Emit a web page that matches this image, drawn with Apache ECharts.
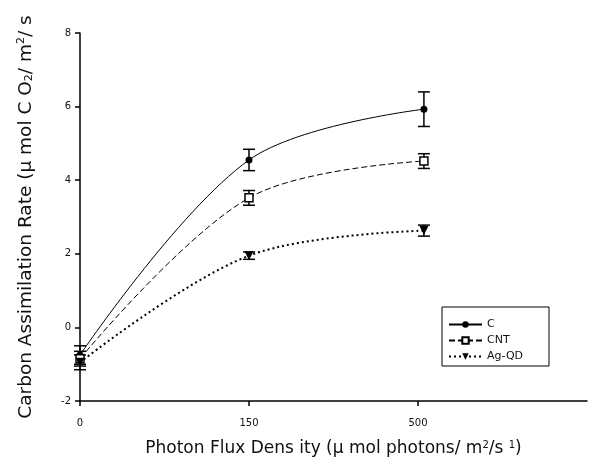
<!DOCTYPE html>
<html>
<head>
<meta charset="utf-8">
<script src="https://cdn.jsdelivr.net/npm/echarts@6/dist/echarts.min.js"></script>
<style>html,body{margin:0;padding:0;background:#fff;}#c{width:593px;height:465px;}</style>
</head>
<body>
<div id="c"></div>
<script>
// Data
const xLabels = ['0', '150', '500'];
const xPos = [0, 1, 2.035];
const cVals = [-0.75, 4.55, 5.93];
const cErr = [0.25, 0.29, 0.47];
const cntVals = [-0.85, 3.52, 4.52];
const cntErr = [0.2, 0.2, 0.2];
const agVals = [-0.95, 1.95, 2.63];
const agErr = [0.2, 0.1, 0.15];
const yTicks = [-2, 0, 2, 4, 6, 8];

const FONT = 'DejaVu Sans';
const chart = echarts.init(document.getElementById('c'));

function pts(vals) { return vals.map((v, i) => [xPos[i], v]); }
function errData(vals, errs) { return vals.map((v, i) => [xPos[i], v - errs[i], v + errs[i]]); }
function errSeries(name, vals, errs) {
  return {
    type: 'custom', name: name, clip: false, z: 3,
    data: errData(vals, errs),
    renderItem: function (params, api) {
      const x = api.value(0);
      const lo = api.coord([x, api.value(1)]);
      const hi = api.coord([x, api.value(2)]);
      const w = 6;
      const st = { stroke: '#000', lineWidth: 1.5 };
      return { type: 'group', children: [
        { type: 'line', shape: { x1: lo[0], y1: lo[1], x2: hi[0], y2: hi[1] }, style: st },
        { type: 'line', shape: { x1: lo[0] - w, y1: lo[1], x2: lo[0] + w, y2: lo[1] }, style: st },
        { type: 'line', shape: { x1: hi[0] - w, y1: hi[1], x2: hi[0] + w, y2: hi[1] }, style: st }
      ]};
    }
  };
}

const option = {
  animation: false,
  backgroundColor: '#fff',
  textStyle: { fontFamily: FONT, color: '#111' },
  grid: { left: 80, right: 6, top: 33, bottom: 64, containLabel: false },
  xAxis: {
    type: 'value', min: 0, max: 3, interval: 1,
    axisLine: { show: true, onZero: false, lineStyle: { color: '#000', width: 1.5 } },
    axisTick: { show: true, length: 5, customValues: [0, 1, 2], lineStyle: { color: '#000', width: 1.5 } },
    axisLabel: { customValues: [0, 1, 2], margin: 17, fontSize: 10, color: '#111', fontFamily: FONT,
      formatter: function (v) { return xLabels[Math.round(v)] || ''; } },
    splitLine: { show: false },
    name: 'Photon Flux Dens ity (µ mol photons/ m{sup|2}/s {sup|1})',
    nameLocation: 'middle', nameGap: 39,
    nameTextStyle: { fontSize: 17, color: '#111', fontFamily: FONT,
      rich: { sup: { fontSize: 10, fontFamily: FONT, color: '#111', padding: [0, 0, 8, 0] } } }
  },
  yAxis: {
    type: 'value', min: -2, max: 8, interval: 2,
    axisLine: { show: true, onZero: false, lineStyle: { color: '#000', width: 1.5 } },
    axisTick: { show: true, length: 5, lineStyle: { color: '#000', width: 1.5 } },
    axisLabel: { margin: 9, fontSize: 10, color: '#111', fontFamily: FONT,
      formatter: function (v) { return yTicks.indexOf(v) >= 0 ? String(v) : ''; } },
    splitLine: { show: false },
    name: 'Carbon Assimilation Rate (µ mol C O{sub|2}/ m{sup|2}/ s',
    nameLocation: 'middle', nameGap: 44, nameRotate: 90,
    nameTextStyle: { fontSize: 18.5, color: '#111', fontFamily: FONT,
      rich: {
        sup: { fontSize: 11, fontFamily: FONT, color: '#111', padding: [0, 0, 9, 0] },
        sub: { fontSize: 11, fontFamily: FONT, color: '#111', padding: [7, 0, 0, 0] }
      } }
  },
  legend: {
    data: ['C', 'CNT', 'Ag-QD'],
    orient: 'vertical', left: 442, top: 307,
    borderColor: '#000', borderWidth: 1, borderRadius: 0,
    padding: [12, 26, 4, 6],
    itemWidth: 33, itemHeight: 8, itemGap: 5,
    textStyle: { fontSize: 11, color: '#111', fontFamily: FONT }
  },
  series: [
    { type: 'line', name: 'C', data: pts(cVals), smooth: 0.35, z: 4,
      symbol: 'circle', symbolSize: 7,
      itemStyle: { color: '#000' },
      lineStyle: { color: '#000', width: 1, type: 'solid' } },
    { type: 'line', name: 'CNT', data: pts(cntVals), smooth: 0.35, z: 4,
      symbol: 'rect', symbolSize: 8,
      itemStyle: { color: '#fff', borderColor: '#000', borderWidth: 1.5 },
      lineStyle: { color: '#000', width: 1, type: [6, 3] } },
    { type: 'line', name: 'Ag-QD', data: pts(agVals), smooth: 0.35, z: 4,
      symbol: 'triangle', symbolSize: 9, symbolRotate: 180,
      itemStyle: { color: '#000' },
      lineStyle: { color: '#000', width: 2, type: [2, 3] } },
    errSeries('errC', cVals, cErr),
    errSeries('errCNT', cntVals, cntErr),
    errSeries('errAg', agVals, agErr)
  ]
};
chart.setOption(option);
</script>
</body>
</html>
